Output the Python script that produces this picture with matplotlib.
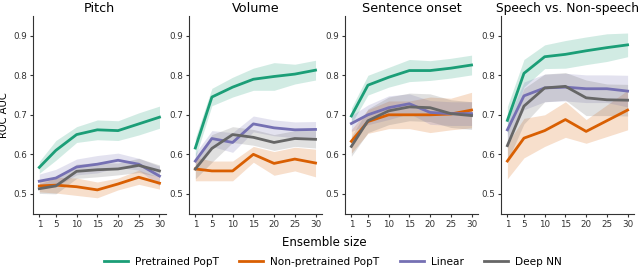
import matplotlib
matplotlib.use("Agg")
import matplotlib.pyplot as plt
import numpy as np

plt.rcParams['font.family'] = ['DejaVu Sans']

sizes = [1, 5, 10, 15, 20, 25, 30]
tasks = ['Pitch', 'Volume', 'Sentence onset', 'Speech vs. Non-speech']
models = ['Pretrained PopT', 'Non-pretrained PopT', 'Linear', 'Deep NN']
colors = ['#1b9e77', '#d95f02', '#7570b3', '#666666']

# mean ROC AUC per task, per model
pitch_mean = {
    'Pretrained PopT':     [0.567, 0.610, 0.650, 0.662, 0.660, 0.677, 0.694],
    'Non-pretrained PopT': [0.520, 0.522, 0.518, 0.510, 0.525, 0.542, 0.527],
    'Linear':              [0.532, 0.540, 0.568, 0.575, 0.585, 0.575, 0.545],
    'Deep NN':             [0.513, 0.520, 0.557, 0.561, 0.563, 0.572, 0.558],
}
volume_mean = {
    'Pretrained PopT':     [0.616, 0.745, 0.770, 0.790, 0.797, 0.803, 0.813],
    'Non-pretrained PopT': [0.563, 0.558, 0.558, 0.600, 0.577, 0.588, 0.578],
    'Linear':              [0.583, 0.640, 0.630, 0.677, 0.667, 0.662, 0.663],
    'Deep NN':             [0.563, 0.615, 0.650, 0.643, 0.630, 0.640, 0.638],
}
onset_mean = {
    'Pretrained PopT':     [0.697, 0.775, 0.795, 0.812, 0.812, 0.818, 0.826],
    'Non-pretrained PopT': [0.633, 0.683, 0.700, 0.700, 0.700, 0.702, 0.712],
    'Linear':              [0.678, 0.700, 0.718, 0.728, 0.706, 0.703, 0.703],
    'Deep NN':             [0.620, 0.685, 0.710, 0.720, 0.718, 0.703, 0.698],
}
speech_mean = {
    'Pretrained PopT':     [0.686, 0.805, 0.847, 0.853, 0.862, 0.870, 0.877],
    'Non-pretrained PopT': [0.583, 0.641, 0.660, 0.688, 0.658, 0.685, 0.712],
    'Linear':              [0.662, 0.748, 0.768, 0.770, 0.766, 0.766, 0.760],
    'Deep NN':             [0.622, 0.722, 0.768, 0.772, 0.743, 0.738, 0.737],
}

# half-width of the shaded band
pitch_err = {
    'Pretrained PopT':     [0.015, 0.025, 0.020, 0.025, 0.025, 0.028, 0.028],
    'Non-pretrained PopT': [0.015, 0.020, 0.022, 0.020, 0.015, 0.018, 0.015],
    'Linear':              [0.018, 0.022, 0.020, 0.022, 0.018, 0.015, 0.025],
    'Deep NN':             [0.012, 0.020, 0.018, 0.018, 0.015, 0.018, 0.015],
}
volume_err = {
    'Pretrained PopT':     [0.025, 0.022, 0.025, 0.028, 0.035, 0.025, 0.025],
    'Non-pretrained PopT': [0.030, 0.025, 0.025, 0.020, 0.030, 0.030, 0.035],
    'Linear':              [0.020, 0.020, 0.025, 0.020, 0.020, 0.020, 0.020],
    'Deep NN':             [0.025, 0.035, 0.020, 0.020, 0.020, 0.020, 0.022],
}
onset_err = {
    'Pretrained PopT':     [0.020, 0.025, 0.025, 0.028, 0.025, 0.025, 0.025],
    'Non-pretrained PopT': [0.030, 0.030, 0.035, 0.035, 0.045, 0.040, 0.045],
    'Linear':              [0.020, 0.025, 0.030, 0.025, 0.030, 0.030, 0.030],
    'Deep NN':             [0.025, 0.030, 0.035, 0.035, 0.035, 0.035, 0.035],
}
speech_err = {
    'Pretrained PopT':     [0.035, 0.035, 0.030, 0.035, 0.035, 0.035, 0.030],
    'Non-pretrained PopT': [0.045, 0.050, 0.040, 0.045, 0.030, 0.040, 0.050],
    'Linear':              [0.025, 0.035, 0.035, 0.035, 0.035, 0.035, 0.040],
    'Deep NN':             [0.040, 0.045, 0.035, 0.035, 0.045, 0.040, 0.040],
}

means = [pitch_mean, volume_mean, onset_mean, speech_mean]
errs = [pitch_err, volume_err, onset_err, speech_err]


def display():
    fig, axes = plt.subplots(1, 4, figsize=(6.4, 2.67), dpi=100)
    fig.subplots_adjust(left=0.052, right=0.99, bottom=0.2, top=0.94, wspace=0.18)

    for ax, task, mean, err in zip(axes, tasks, means, errs):
        for m, c in zip(models, colors):
            mu = np.array(mean[m])
            e = np.array(err[m])
            ax.fill_between(sizes, mu - e, mu + e, color=c, alpha=0.2, linewidth=0)
            ax.plot(sizes, mu, color=c, lw=2, label=m)
        ax.set_title(task, fontsize=9.2 if len(task) < 20 else 8.8, pad=3)
        ax.set_ylim(0.45, 0.95)
        ax.set_yticks([0.5, 0.6, 0.7, 0.8, 0.9])
        ax.set_xticks(sizes)
        ax.tick_params(labelsize=6.3, length=2.5, colors='#333333', pad=2)
        for s in ['top', 'right']:
            ax.spines[s].set_visible(False)
        for s in ['left', 'bottom']:
            ax.spines[s].set_color('#333333')

    axes[0].set_ylabel('ROC AUC', fontsize=7.2)
    axes[0].yaxis.set_label_coords(-0.185, 0.5)
    fig.text(0.506, 0.09, 'Ensemble size', ha='center', va='center', fontsize=8.5)
    handles, labels = axes[0].get_legend_handles_labels()
    fig.legend(handles, labels, loc='center', bbox_to_anchor=(0.52, 0.02), ncol=4,
               frameon=False, fontsize=7.6, handlelength=2.3, handletextpad=0.65,
               columnspacing=1.9, borderpad=0)
    fig.savefig('out.png', dpi=100)


if __name__ == '__main__':
    display()
